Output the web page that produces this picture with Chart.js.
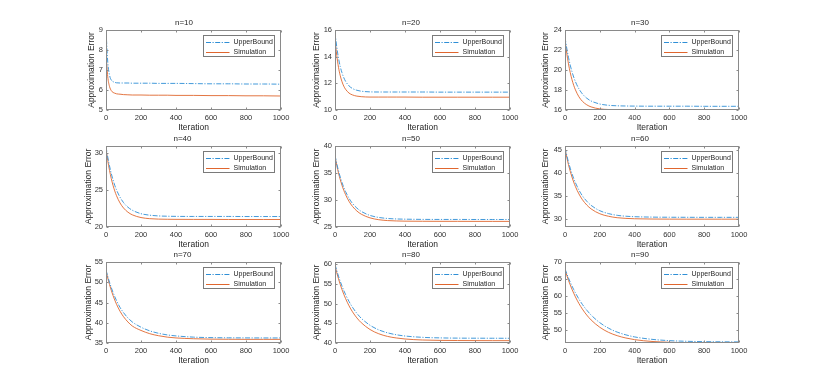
<!DOCTYPE html>
<html><head><meta charset="utf-8">
<script src="https://cdn.jsdelivr.net/npm/chart.js@4/dist/chart.umd.min.js"></script>
<style>
html,body{margin:0;padding:0;background:#fff;}
body{width:817px;height:388px;position:relative;overflow:hidden;}
canvas{position:absolute;}
</style></head><body>
<script>
// ---- data ----
const iterations = [0,10,20,30,40,50,60,80,100,125,150,200,250,300,350,400,500,600,700,800,900,1000];
const panelTitles = ['n=10','n=20','n=30','n=40','n=50','n=60','n=70','n=80','n=90'];
const seriesNames = ['UpperBound','Simulation'];

const upper10 = [9.0,7.4,6.75,6.5,6.42,6.38,6.36,6.35,6.35,6.35,6.34,6.34,6.34,6.33,6.33,6.33,6.32,6.31,6.31,6.30,6.30,6.29];
const sim10   = [7.8,6.66,6.18,5.97,5.88,5.84,5.81,5.79,5.77,5.76,5.75,5.75,5.74,5.74,5.74,5.73,5.73,5.72,5.72,5.71,5.71,5.70];
const upper20 = [15.85,14.73,13.89,13.26,12.79,12.43,12.16,11.81,11.61,11.48,11.41,11.36,11.35,11.35,11.35,11.35,11.35,11.34,11.34,11.34,11.34,11.34];
const sim20   = [15.32,14.09,13.20,12.57,12.12,11.79,11.56,11.27,11.13,11.04,11.00,10.97,10.97,10.97,10.97,10.97,10.96,10.96,10.96,10.96,10.96,10.96];
const upper30 = [23.28,22.19,21.27,20.49,19.84,19.29,18.83,18.12,17.61,17.18,16.90,16.60,16.47,16.42,16.40,16.39,16.38,16.38,16.38,16.37,16.37,16.37];
const sim30   = [23.0,21.68,20.61,19.75,19.04,18.47,18.01,17.32,16.87,16.52,16.31,16.11,16.05,16.03,16.02,16.02,16.02,16.02,16.02,16.02,16.02,16.02];
const upper40 = [30.82,29.42,28.23,27.21,26.35,25.61,24.99,24.01,23.29,22.67,22.26,21.79,21.59,21.49,21.45,21.43,21.42,21.42,21.42,21.41,21.41,21.41];
const sim40   = [30.52,28.94,27.62,26.53,25.61,24.85,24.21,23.24,22.56,22.0,21.64,21.27,21.12,21.06,21.04,21.03,21.02,21.02,21.01,21.01,21.01,21.01];
const upper50 = [38.3,36.75,35.41,34.24,33.23,32.34,31.58,30.32,29.36,28.5,27.89,27.14,26.77,26.58,26.49,26.45,26.41,26.40,26.40,26.39,26.39,26.39];
const sim50   = [38.05,36.41,34.99,33.77,32.71,31.8,31.02,29.75,28.81,27.96,27.37,26.69,26.35,26.19,26.12,26.08,26.06,26.05,26.05,26.04,26.04,26.04];
const upper60 = [45.6,43.91,42.41,41.09,39.9,38.84,37.91,36.33,35.08,33.9,33.0,31.84,31.21,30.84,30.64,30.54,30.45,30.42,30.41,30.40,30.40,30.40];
const sim60   = [45.3,43.46,41.84,40.42,39.16,38.06,37.08,35.49,34.24,33.08,32.23,31.18,30.63,30.32,30.17,30.09,30.03,30.01,30.0,30.0,30.0,30.0];
const upper70 = [53.05,51.45,50.01,48.7,47.51,46.45,45.47,43.79,42.5,41.2,40.2,38.9,38.0,37.4,37.0,36.75,36.45,36.33,36.28,36.26,36.25,36.25];
const sim70   = [52.8,51.03,49.44,48.02,46.73,45.6,44.57,42.85,41.5,40.2,39.2,38.1,37.3,36.8,36.45,36.25,36.05,35.95,35.92,35.9,35.9,35.9];
const upper80 = [60.0,58.44,57.0,55.68,54.47,53.36,52.36,50.57,49.08,47.54,46.3,44.51,43.34,42.59,42.1,41.78,41.44,41.3,41.24,41.22,41.21,41.2];
const sim80   = [59.6,57.87,56.31,54.87,53.58,52.4,51.34,49.47,47.93,46.38,45.16,43.43,42.35,41.68,41.28,41.02,40.76,40.66,40.63,40.61,40.6,40.6];
const upper90 = [68.0,66.63,65.32,64.12,62.99,61.94,60.94,59.16,57.58,55.91,54.48,52.25,50.64,49.49,48.68,48.08,47.37,46.99,46.8,46.7,46.65,46.62];
const sim90   = [67.7,66.12,64.64,63.29,62.03,60.87,59.78,57.86,56.21,54.47,53.04,50.9,49.42,48.44,47.76,47.28,46.75,46.51,46.4,46.35,46.32,46.3];

const upperSeries = [upper10,upper20,upper30,upper40,upper50,upper60,upper70,upper80,upper90];
const simSeries   = [sim10,sim20,sim30,sim40,sim50,sim60,sim70,sim80,sim90];

const xTicks = [0,200,400,600,800,1000];
const yMin = [5,10,16,20,25,28.3,35,40,46.3];
const yMax = [9,16,24,30.9,40,45.9,55,60.6,70];
const yTicks = [[5,6,7,8,9],[10,12,14,16],[16,18,20,22,24],[20,25,30],[25,30,35,40],[30,35,40,45],[35,40,45,50,55],[40,45,50,55,60],[50,55,60,65,70]];

// ---- layout ----
const colLeft = [106,335,565], colW = [175,175,174];
const rowTop = [30,146,262], rowH = [80,81,81];
const yAxisW = [19,23,24,22,23,24,22,23,24];
const TITLE_H = 20, XAXIS_H = 23, RIGHT_PAD = 14;
const FONT = "'Liberation Sans', Arial, Helvetica, sans-serif";
const UPPER_COLOR = '#2f8fd6', SIM_COLOR = '#e0662e';

const framePlugin = {
  id: 'frame',
  afterDraw(chart) {
    const {ctx, chartArea: a, scales: {x, y}} = chart;
    ctx.save();
    ctx.strokeStyle = '#8a8a8a';
    ctx.lineWidth = 1;
    const L = Math.round(a.left) + 0.5, R = Math.round(a.right) - 0.5;
    const T = Math.round(a.top) + 0.5, B = Math.round(a.bottom) - 0.5;
    ctx.strokeRect(L, T, R - L, B - T);
    ctx.beginPath();
    x.ticks.forEach(t => {
      const p = Math.round(x.getPixelForValue(t.value)) + 0.5;
      ctx.moveTo(p, B); ctx.lineTo(p, B - 2);
      ctx.moveTo(p, T); ctx.lineTo(p, T + 2);
    });
    y.ticks.forEach(t => {
      const p = Math.round(y.getPixelForValue(t.value)) + 0.5;
      ctx.moveTo(L, p); ctx.lineTo(L + 2, p);
      ctx.moveTo(R, p); ctx.lineTo(R - 2, p);
    });
    ctx.stroke();
    // legend box (inside, top-right)
    const bw = 71, bh = 21;
    const bx = Math.round(a.right - 7.5 - bw) + 0.5, by = Math.round(a.top + 4.5) + 0.5;
    ctx.fillStyle = '#fff';
    ctx.fillRect(bx, by, bw, bh);
    ctx.strokeStyle = '#7a7a7a';
    ctx.lineWidth = 1;
    ctx.strokeRect(bx, by, bw, bh);
    ctx.font = '7px ' + FONT;
    ctx.textBaseline = 'middle';
    const cols = [UPPER_COLOR, SIM_COLOR];
    const dashes = [[5, 1.5, 1.2, 1.5], []];
    seriesNames.forEach((name, k) => {
      const yy = Math.round(by + 6.5 + k * 9.5) + 0.5;
      ctx.beginPath();
      ctx.strokeStyle = cols[k];
      ctx.lineWidth = 1;
      ctx.setLineDash(dashes[k]);
      ctx.moveTo(bx + 2.5, yy); ctx.lineTo(bx + 26, yy);
      ctx.stroke();
      ctx.setLineDash([]);
      ctx.fillStyle = '#262626';
      ctx.fillText(name, bx + 30, yy);
    });
    ctx.restore();
  }
};

for (let i = 0; i < 9; i++) {
  const r = Math.floor(i / 3), c = i % 3;
  const yw = yAxisW[i];
  const cv = document.createElement('canvas');
  const W = yw + colW[c] + RIGHT_PAD, H = TITLE_H + rowH[r] + XAXIS_H;
  cv.width = W; cv.height = H;
  cv.style.left = (colLeft[c] - yw) + 'px';
  cv.style.top = (rowTop[r] - TITLE_H) + 'px';
  cv.style.width = W + 'px'; cv.style.height = H + 'px';
  document.body.appendChild(cv);

  const ticksY = yTicks[i];
  new Chart(cv, {
    type: 'line',
    data: {
      datasets: [
        {
          label: seriesNames[0],
          data: iterations.map((t, k) => ({x: t, y: upperSeries[i][k]})),
          borderColor: UPPER_COLOR,
          borderWidth: 0.9,
          borderDash: [5, 1.5, 1.2, 1.5],
          pointRadius: 0,
          cubicInterpolationMode: 'monotone',
          fill: false
        },
        {
          label: seriesNames[1],
          data: iterations.map((t, k) => ({x: t, y: simSeries[i][k]})),
          borderColor: SIM_COLOR,
          borderWidth: 0.9,
          pointRadius: 0,
          cubicInterpolationMode: 'monotone',
          fill: false
        }
      ]
    },
    options: {
      responsive: false,
      animation: false,
      devicePixelRatio: 1,
      layout: {padding: {left: 0, right: RIGHT_PAD, top: 0, bottom: 0}},
      plugins: {
        legend: {display: false},
        tooltip: {enabled: false},
        title: {
          display: true,
          text: panelTitles[i],
          color: '#262626',
          font: {family: FONT, size: 8, weight: 'normal', lineHeight: 1.2},
          padding: {top: 8.2, bottom: TITLE_H - 9.6 - 8.2}
        }
      },
      scales: {
        x: {
          type: 'linear',
          min: 0, max: 1000,
          afterBuildTicks: s => { s.ticks = xTicks.map(v => ({value: v})); },
          afterFit: s => { s.height = XAXIS_H; },
          grid: {display: false, drawTicks: false},
          border: {display: false},
          ticks: {
            color: '#333', padding: 3.5, maxRotation: 0, autoSkip: false,
            callback: v => String(v),
            font: {family: FONT, size: 7.5, lineHeight: 1.2}
          },
          title: {
            display: true, text: 'Iteration', color: '#262626',
            font: {family: FONT, size: 8.5, lineHeight: 1.2},
            padding: {top: 0, bottom: 0}
          }
        },
        y: {
          type: 'linear',
          min: yMin[i], max: yMax[i],
          afterBuildTicks: s => { s.ticks = ticksY.map(v => ({value: v})); },
          afterFit: s => { s.width = yw; },
          grid: {display: false, drawTicks: false},
          border: {display: false},
          ticks: {
            color: '#333', padding: 3, autoSkip: false,
            callback: v => String(v),
            font: {family: FONT, size: 7.5, lineHeight: 1.2}
          },
          title: {
            display: true, text: 'Approximation Error', color: '#262626',
            font: {family: FONT, size: 8.5, lineHeight: 1.2},
            padding: {top: 0, bottom: 0}
          }
        }
      }
    },
    plugins: [framePlugin]
  });
}
</script>
</body></html>
